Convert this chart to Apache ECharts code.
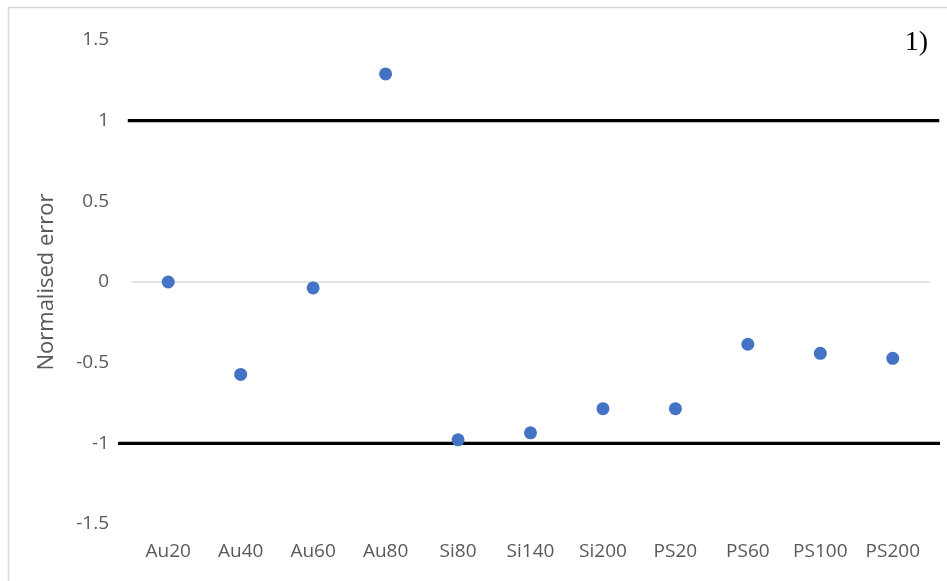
<!DOCTYPE html>
<html>
<head>
<meta charset="utf-8">
<script src="https://cdn.jsdelivr.net/npm/echarts@6/dist/echarts.min.js"></script>
<style>
  html, body { margin: 0; padding: 0; background: #fff; }
  #chart { width: 947px; height: 581px; }
</style>
</head>
<body>
<div id="chart"></div>
<script>
// categories along the x axis
const categories = ["Au20", "Au40", "Au60", "Au80", "Si80", "Si140", "Si200", "PS20", "PS60", "PS100", "PS200"];
// normalised error per sample
const errorValues = [0, -0.573, -0.037, 1.29, -0.978, -0.935, -0.785, -0.785, -0.386, -0.442, -0.473];
// y axis ticks
const yTicks = { min: -1.5, max: 1.5, step: 0.5 };
// limit lines at +1 and -1 (x in category-index units, a bit wider than the plot)
const upperLimit = [[-0.555, 1], [10.64, 1]];
const lowerLimit = [[-0.69, -1], [10.65, -1]];

const chart = echarts.init(document.getElementById("chart"));

const labelFont = "'Open Sans', 'Liberation Sans', sans-serif";

chart.setOption({
  animation: false,
  backgroundColor: "#fff",
  grid: [
    { left: 132, right: 18, top: 40, bottom: 57 },
    // wider grid just for the limit lines
    { left: 118, right: 7, top: 40, bottom: 57 }
  ],
  graphic: [
    {
      // chart frame
      type: "rect",
      shape: { x: 8.5, y: 7.5, width: 960, height: 600 },
      style: { fill: "none", stroke: "#d9d9d9", lineWidth: 1.5 },
      silent: true
    },
    {
      type: "text",
      right: 19,
      top: 29,
      style: { text: "1)", font: "28px 'Liberation Serif', 'DejaVu Serif', serif", fill: "#000" }
    }
  ],
  xAxis: [
    {
      type: "category",
      gridIndex: 0,
      data: categories,
      boundaryGap: true,
      axisLine: { show: true, onZero: true, lineStyle: { color: "#d9d9d9", width: 1.5 } },
      axisTick: { show: false },
      axisLabel: { show: false },
      splitLine: { show: false }
    },
    {
      type: "value",
      gridIndex: 1,
      min: -0.69,
      max: 10.65,
      show: false
    },
    {
      type: "category",
      gridIndex: 0,
      data: categories,
      position: "bottom",
      boundaryGap: true,
      axisLine: { show: false },
      axisTick: { show: false },
      axisLabel: { color: "#595959", fontSize: 19, fontFamily: labelFont, margin: 18, interval: 0 }
    }
  ],
  yAxis: [
    {
      type: "value",
      gridIndex: 0,
      min: yTicks.min,
      max: yTicks.max,
      interval: yTicks.step,
      name: "Normalised error",
      nameLocation: "middle",
      nameGap: 74,
      nameTextStyle: { color: "#595959", fontSize: 22, fontFamily: labelFont },
      axisLine: { show: false },
      axisTick: { show: false },
      splitLine: { show: false },
      axisLabel: { color: "#595959", fontSize: 19, fontFamily: labelFont, margin: 23 }
    },
    {
      type: "value",
      gridIndex: 1,
      min: yTicks.min,
      max: yTicks.max,
      interval: yTicks.step,
      show: false
    }
  ],
  series: [
    {
      type: "line",
      xAxisIndex: 1,
      yAxisIndex: 1,
      data: upperLimit,
      symbol: "none",
      lineStyle: { color: "#000", width: 3.2 },
      z: 1
    },
    {
      type: "line",
      xAxisIndex: 1,
      yAxisIndex: 1,
      data: lowerLimit,
      symbol: "none",
      lineStyle: { color: "#000", width: 3.2 },
      z: 1
    },
    {
      type: "scatter",
      xAxisIndex: 0,
      yAxisIndex: 0,
      data: errorValues,
      symbol: "circle",
      symbolSize: 13,
      itemStyle: { color: "#4472C4", opacity: 1 },
      z: 3
    }
  ]
});
</script>
</body>
</html>
